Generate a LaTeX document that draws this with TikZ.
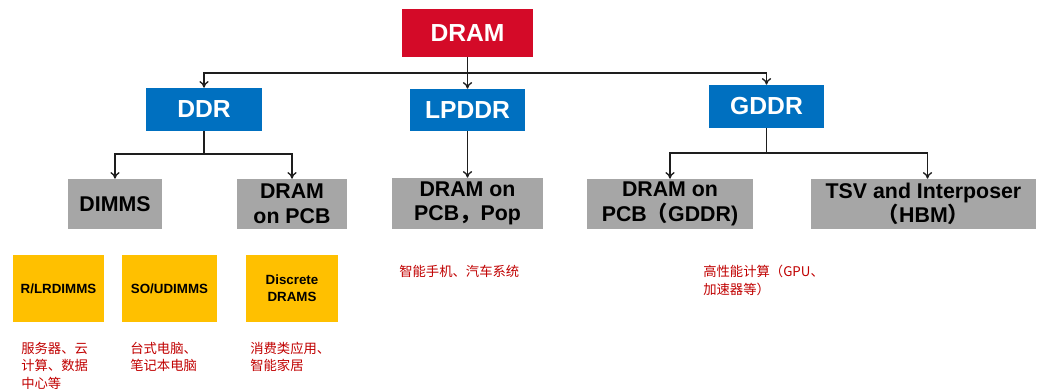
\documentclass[tikz,border=0pt]{standalone}
\usepackage{fontspec}
\setmainfont{Liberation Sans}
\newfontfamily\cjk{Noto Sans CJK SC}
\usetikzlibrary{arrows.meta}
\definecolor{dramred}{RGB}{212,10,40}
\definecolor{ddrblue}{RGB}{0,112,192}
\definecolor{boxgray}{RGB}{166,166,166}
\definecolor{boxyel}{RGB}{255,192,0}
\definecolor{txtred}{RGB}{192,0,0}
\definecolor{linec}{RGB}{30,30,30}
\tikzset{
  bx/.style={inner sep=0pt, align=center, font=\bfseries},
  topbox/.style={bx, fill=dramred, text=white, font=\fontsize{18.5}{20}\selectfont\bfseries},
  bluebox/.style={bx, fill=ddrblue, text=white, font=\fontsize{18.5}{20}\selectfont\bfseries},
  graybox/.style={bx, fill=boxgray, text=black, font=\fontsize{16}{18.5}\selectfont\bfseries},
  yelbox/.style={bx, fill=boxyel, text=black, font=\fontsize{10}{12.5}\selectfont\bfseries},
  note/.style={inner sep=0pt, anchor=north west, align=left, text=txtred, font=\fontsize{10}{13}\selectfont\cjk},
  conn/.style={draw=linec, line width=1.1pt},
  arr/.style={conn, -{To[length=5pt,width=7pt,line width=1pt]}},
}
\newcommand{\boxat}[6]{\node[#1, minimum width=#4*0.75pt-#2*0.75pt, minimum height=#5*0.75pt-#3*0.75pt] (#6) at ({(#2+#4)/2},{(#3+#5)/2})}
\begin{document}
\begin{tikzpicture}[x=0.75pt,y=-0.75pt]
\useasboundingbox (0,0) rectangle (1046,389);
% level 0
\boxat{topbox}{402}{9}{533}{57}{dram} {DRAM};
% level 1
\boxat{bluebox}{146}{88}{262}{131}{ddr} {DDR};
\boxat{bluebox}{410}{89}{525}{131}{lpddr} {LPDDR};
\boxat{bluebox}{709}{85}{824}{128}{gddr} {GDDR};
% level 2
\boxat{graybox}{68}{179}{162}{229}{dimms} {DIMMS};
\boxat{graybox}{237}{179}{347}{229}{pcb} {DRAM\\on PCB};
\boxat{graybox}{392}{178}{543}{229}{pop} {DRAM on\\PCB{\cjk\bfseries ，}Pop};
\boxat{graybox}{587}{179}{753}{229}{gpcb} {DRAM on\\PCB{\cjk\bfseries （}GDDR)};
\boxat{graybox}{811}{179}{1036}{229}{tsv} {TSV and Interposer\\{\cjk\bfseries （}HBM{\cjk\bfseries ）}};
% level 3
\boxat{yelbox}{13}{255}{104}{322}{rlr} {R/LRDIMMS};
\boxat{yelbox}{122}{255}{217}{322}{so} {SO/UDIMMS};
\boxat{yelbox}{246}{255}{338}{322}{disc} {Discrete\\DRAMS};
% notes
\node[note] (n1) at (21,342) {服务器、云\\计算、数据\\中心等};
\node[note] (n2) at (130,342) {台式电脑、\\笔记本电脑};
\node[note] (n3) at (250,342) {消费类应用、\\智能家居};
\node[note] (n4) at (399,265) {智能手机、汽车系统};
\node[note] (n5) at (703,265) {高性能计算（GPU、\\加速器等）};
% connectors
\coordinate (j0) at (dram.south |- 0,73);
\draw[conn] (dram.south) -- (j0);
\draw[arr] (j0) -| (ddr.north);
\draw[arr] (j0) -| (gddr.north);
\draw[arr] (j0) -- (lpddr.north);
\coordinate (j1) at (ddr.south |- 0,154);
\draw[conn] (ddr.south) -- (j1);
\draw[arr] (j1) -| (dimms.north);
\draw[arr] (j1) -| (pcb.north);
\draw[arr] (lpddr.south) -- (pop.north);
\coordinate (j2) at (gddr.south |- 0,153);
\draw[conn] (gddr.south) -- (j2);
\draw[arr] (j2) -| (gpcb.north);
\draw[arr] (j2) -| ([xshift=3pt]tsv.north);
\end{tikzpicture}
\end{document}
